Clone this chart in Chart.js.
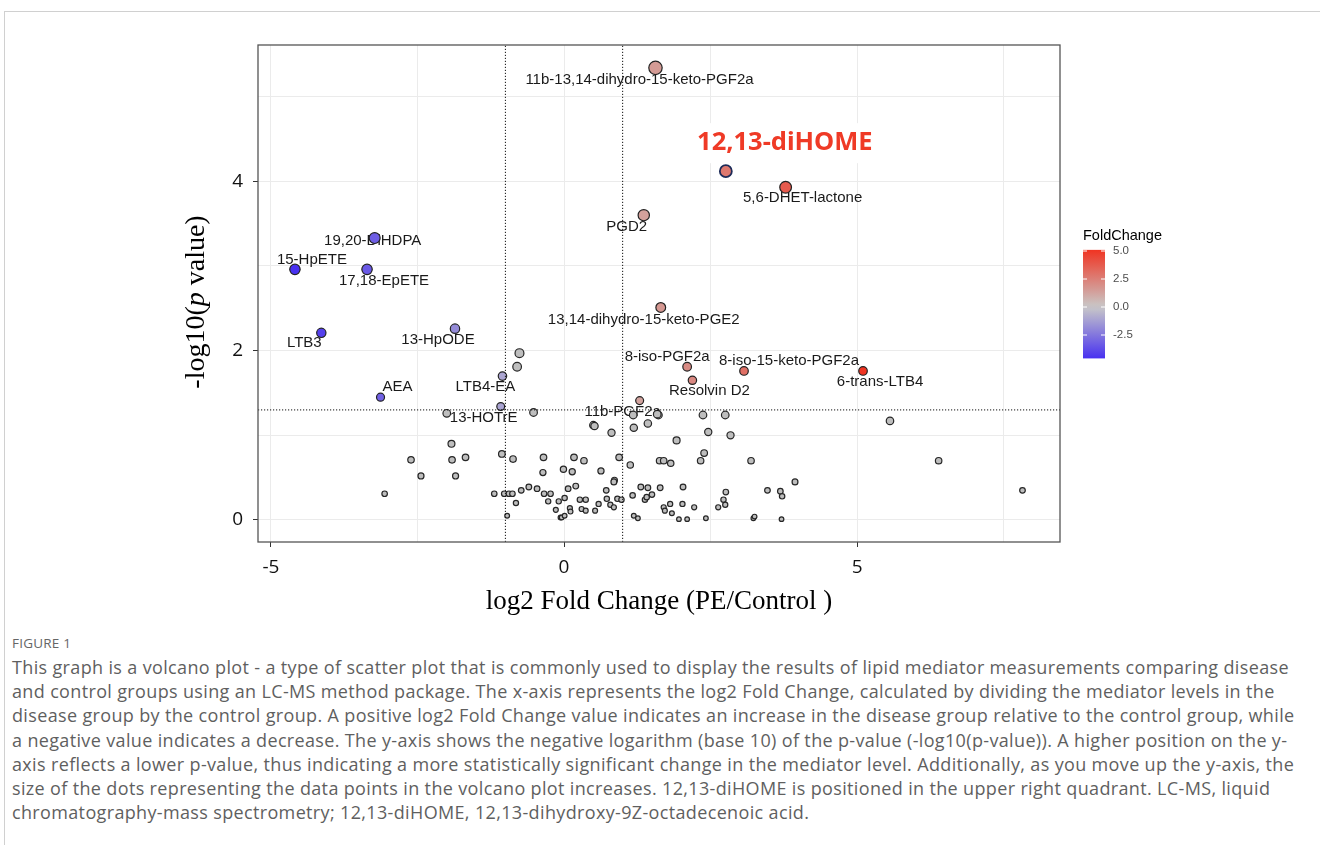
<!DOCTYPE html>
<html lang="en">
<head>
  <meta charset="UTF-8">
  <title>Volcano plot - lipid mediators</title>
  <script src="https://cdn.jsdelivr.net/npm/chart.js"></script>
  <style>
    body {
      margin: 0;
      background: #fff;
      font-family: "Open Sans", Arial, sans-serif;
    }
    .frame {
      position: absolute;
      left: 4px;
      top: 11px;
      width: 1400px;
      height: 900px;
      border-left: 1px solid #d0d0d0;
      border-top: 1px solid #d0d0d0;
    }
    #volcano {
      position: absolute;
      left: 0;
      top: 0;
    }
    .fig-label {
      position: absolute;
      left: 12px;
      top: 634px;
      font-size: 13.5px;
      line-height: 18px;
      color: #666;
      letter-spacing: 0.2px;
    }
    .caption {
      position: absolute;
      left: 12px;
      top: 655px;
      font-size: 18px;
      line-height: 24.2px;
      letter-spacing: 0.35px;
      color: #5f5f5f;
      white-space: nowrap;
    }
  </style>
</head>
<body>
  <div class="frame"></div>
  <canvas id="volcano" width="1320" height="630"></canvas>

  <div class="fig-label">FIGURE 1</div>
  <div class="caption">
    This graph is a volcano plot - a type of scatter plot that is commonly used to display the results of lipid mediator measurements comparing disease<br>
    and control groups using an LC-MS method package. The x-axis represents the log2 Fold Change, calculated by dividing the mediator levels in the<br>
    disease group by the control group. A positive log2 Fold Change value indicates an increase in the disease group relative to the control group, while<br>
    a negative value indicates a decrease. The y-axis shows the negative logarithm (base 10) of the p-value (-log10(p-value)). A higher position on the y-<br>
    axis reflects a lower p-value, thus indicating a more statistically significant change in the mediator level. Additionally, as you move up the y-axis, the<br>
    size of the dots representing the data points in the volcano plot increases. 12,13-diHOME is positioned in the upper right quadrant. LC-MS, liquid<br>
    chromatography-mass spectrometry; 12,13-diHOME, 12,13-dihydroxy-9Z-octadecenoic acid.
  </div>

  <script>
    // significant mediators (p < 0.05, |log2FC| > 1), labelled on the plot
    const labelNames = [
      '11b-13,14-dihydro-15-keto-PGF2a', '12,13-diHOME', '5,6-DHET-lactone', 'PGD2',
      '19,20-DiHDPA', '15-HpETE', '17,18-EpETE', '13,14-dihydro-15-keto-PGE2',
      'LTB3', '13-HpODE', 'LTB4-EA', 'AEA', '13-HOTrE', '11b-PGF2a',
      '8-iso-PGF2a', 'Resolvin D2', '8-iso-15-keto-PGF2a', '6-trans-LTB4'
    ];
    const labelFC = [1.56, 2.76, 3.78, 1.36, -3.23, -4.59, -3.36, 1.65,
                     -4.14, -1.86, -1.05, -3.13, -1.08, 1.29, 2.10, 2.19, 3.07, 5.10];
    const labelP = [5.34, 4.12, 3.93, 3.60, 3.33, 2.96, 2.96, 2.51,
                    2.21, 2.26, 1.70, 1.45, 1.34, 1.41, 1.81, 1.65, 1.76, 1.76];

    // all other mediators
    const otherFC = [
      -0.76, -0.80, -2.00, -0.52, 0.50, 0.52, 0.81, 1.19, 1.18, 1.43, 1.61, 1.59, 2.37, 2.75,
      2.46, 2.84, 1.92, 2.39, 2.33, 1.63, 1.70, 1.82, 3.19, 5.56, 6.39, 7.82,
      -1.92, -2.61, -1.91, -1.68, -2.44, -1.85, -3.06, -1.06, -0.87, -0.35, -0.36, -0.01, 0.14,
      0.17, 0.34, 0.63, 0.94, 1.13,
      -1.19, -1.02, -0.94, -0.88, -0.82, -0.73, -0.60, -0.46, -0.34, -0.23, -0.27, -0.09, 0.01,
      0.07, 0.20, 0.27, 0.37, -0.14, -0.06, -0.04, 0.01, 0.10, 0.11, 0.30, 0.37, 0.53, 0.59,
      0.72, 0.73, 0.79, 0.85, 0.86, 0.85, 0.91, 0.98, -0.97, 1.17, 1.31, 1.38, 1.19, 1.26,
      1.43, 1.64, 2.03, 1.41, 1.50, 1.70, 1.72, 1.81, 2.02, 2.22, 2.63, 1.96, 2.10, 2.42, 1.84,
      3.94, 2.76, 3.47, 3.69, 3.72, 2.72, 2.75, 3.23, 3.25, 3.71
    ];
    const otherP = [
      1.97, 1.81, 1.26, 1.27, 1.12, 1.11, 1.03, 1.09, 1.24, 1.14, 1.24, 1.25, 1.24, 1.24,
      1.04, 1.00, 0.94, 0.79, 0.70, 0.70, 0.70, 0.67, 0.70, 1.17, 0.70, 0.35,
      0.90, 0.71, 0.71, 0.74, 0.52, 0.52, 0.31, 0.78, 0.72, 0.74, 0.56, 0.60, 0.57,
      0.74, 0.70, 0.58, 0.74, 0.65,
      0.31, 0.31, 0.31, 0.31, 0.20, 0.35, 0.39, 0.37, 0.31, 0.31, 0.22, 0.22, 0.26,
      0.37, 0.40, 0.24, 0.24, 0.12, 0.03, 0.03, 0.05, 0.14, 0.10, 0.13, 0.11, 0.11, 0.19,
      0.35, 0.25, 0.18, 0.15, 0.47, 0.45, 0.25, 0.24, 0.05, 0.29, 0.39, 0.24, 0.05, 0.02,
      0.38, 0.38, 0.39, 0.27, 0.30, 0.15, 0.11, 0.19, 0.19, 0.15, 0.15, 0.01, 0.01, 0.02, 0.08,
      0.45, 0.33, 0.35, 0.34, 0.28, 0.24, 0.18, 0.02, 0.04, 0.01
    ];

    const xTicks = [-5, -2.5, 0, 2.5, 5, 7.5];
    const xTickLabels = [-5, 0, 5];
    const yTicks = [0, 1, 2, 3, 4, 5];
    const yTickLabels = [0, 2, 4];
    const fcCutoffs = [-1, 1];
    const pCutoff = 1.3;
    const legendBreaks = [5.0, 2.5, 0.0, -2.5];
    const highlightName = '12,13-diHOME';

    const xMin = -5.22, xMax = 8.46;
    const yMin = -0.26, yMax = 5.61;

    // where each label sits relative to its point (px)
    const labelOffsets = {
      '11b-13,14-dihydro-15-keto-PGF2a': [-16, 12],
      '12,13-diHOME': [59, -28],
      '5,6-DHET-lactone': [17, 11],
      'PGD2': [-17, 12],
      '19,20-DiHDPA': [-2, 3],
      '15-HpETE': [17, -10],
      '17,18-EpETE': [17, 11],
      '13,14-dihydro-15-keto-PGE2': [-17, 12],
      'LTB3': [-17, 10],
      '13-HpODE': [-17, 11],
      'LTB4-EA': [-17, 11],
      'AEA': [17, -10],
      '13-HOTrE': [-17, 11],
      '11b-PGF2a': [-17, 11],
      '8-iso-PGF2a': [-20, -10],
      'Resolvin D2': [17, 11],
      '8-iso-15-keto-PGF2a': [45, -10],
      '6-trans-LTB4': [17, 11]
    };

    // fill colour scale: blue - grey - red, centred on 0
    const lowColor = [58, 32, 245];
    const midColor = [200, 200, 200];
    const highColor = [240, 52, 34];
    const fcLimit = Math.max(...labelFC.map(Math.abs));

    function mix(a, b, t) {
      return a.map((c, i) => Math.round(c + (b[i] - c) * t));
    }
    function fcColor(v) {
      const t = Math.max(-1, Math.min(1, v / fcLimit));
      const c = t >= 0 ? mix(midColor, highColor, t) : mix(midColor, lowColor, -t);
      return `rgb(${c[0]}, ${c[1]}, ${c[2]})`;
    }
    // dot area grows with -log10(p)
    function dotRadius(p) {
      return Math.sqrt(5.3 + 7.4 * Math.max(p, 0));
    }

    const cutoffLine = {
      showLine: true,
      pointRadius: 0,
      borderColor: '#111',
      borderWidth: 1,
      borderDash: [1.2, 1.8]
    };

    const plotDecor = {
      id: 'plotDecor',
      beforeDatasetsDraw(chart) {
        const { ctx, scales: { x, y } } = chart;
        ctx.save();
        ctx.textAlign = 'center';
        ctx.textBaseline = 'middle';
        labelNames.forEach((name, i) => {
          const px = x.getPixelForValue(labelFC[i]);
          const py = y.getPixelForValue(labelP[i]);
          const off = labelOffsets[name] || [0, 12];
          if (name === highlightName) {
            ctx.font = 'bold 25.5px "Noto Sans", sans-serif';
            const w = ctx.measureText(name).width;
            ctx.fillStyle = '#fff';
            ctx.fillRect(px + off[0] - w / 2 - 3, py + off[1] - 20, w + 6, 40);
            ctx.fillStyle = '#ef3a26';
            ctx.fillText(name, px + off[0], py + off[1]);
          } else {
            ctx.font = '15px "Liberation Sans", Arial, sans-serif';
            ctx.fillStyle = '#1a1a1a';
            ctx.fillText(name, px + off[0], py + off[1]);
          }
        });
        ctx.restore();
      },
      afterDraw(chart) {
        const { ctx, chartArea: a } = chart;
        ctx.save();

        // panel border
        ctx.strokeStyle = '#555';
        ctx.lineWidth = 1.3;
        ctx.strokeRect(a.left, a.top, a.right - a.left, a.bottom - a.top);

        // x axis title
        ctx.fillStyle = '#000';
        ctx.font = '27px "Liberation Serif", "Times New Roman", serif';
        ctx.textAlign = 'center';
        ctx.textBaseline = 'middle';
        ctx.fillText('log2 Fold Change (PE/Control )', (a.left + a.right) / 2, 602);

        // y axis title with italic p
        const parts = [
          ['-log10(', '28px "Liberation Serif", serif'],
          ['p', 'italic 28px "Liberation Serif", serif'],
          [' value)', '28px "Liberation Serif", serif']
        ];
        let total = 0;
        parts.forEach(([t, f]) => { ctx.font = f; total += ctx.measureText(t).width; });
        ctx.translate(197, 302);
        ctx.rotate(-Math.PI / 2);
        ctx.textAlign = 'left';
        let cx = -total / 2;
        parts.forEach(([t, f]) => {
          ctx.font = f;
          ctx.fillText(t, cx, 0);
          cx += ctx.measureText(t).width;
        });
        ctx.setTransform(1, 0, 0, 1, 0, 0);

        // colour bar legend
        const barX = 1083, barW = 22;
        const pxPerUnit = 11.2, zeroY = 307;
        const fcMinAll = Math.min(...labelFC);
        const barTop = zeroY - fcLimit * pxPerUnit;
        const barBottom = zeroY - fcMinAll * pxPerUnit;
        const grad = ctx.createLinearGradient(0, barTop, 0, barBottom);
        for (let k = 0; k <= 20; k++) {
          const v = fcLimit + (fcMinAll - fcLimit) * k / 20;
          grad.addColorStop(k / 20, fcColor(v));
        }
        ctx.fillStyle = grad;
        ctx.fillRect(barX, barTop, barW, barBottom - barTop);

        ctx.font = '14.5px "Liberation Sans", Arial, sans-serif';
        ctx.fillStyle = '#000';
        ctx.textAlign = 'left';
        ctx.fillText('FoldChange', barX, 236);

        ctx.font = '11.5px "Liberation Sans", Arial, sans-serif';
        ctx.fillStyle = '#4d4d4d';
        ctx.strokeStyle = '#fff';
        ctx.lineWidth = 1;
        legendBreaks.forEach(v => {
          const by = zeroY - v * pxPerUnit;
          ctx.beginPath();
          ctx.moveTo(barX, by); ctx.lineTo(barX + 4, by);
          ctx.moveTo(barX + barW - 4, by); ctx.lineTo(barX + barW, by);
          ctx.stroke();
          ctx.fillText(v.toFixed(1), barX + 30, by);
        });
        ctx.restore();
      }
    };

    const tickFont = { family: '"Open Sans", Arial, sans-serif', size: 19 };

    new Chart(document.getElementById('volcano'), {
      type: 'scatter',
      data: {
        datasets: [
          { ...cutoffLine, data: [{ x: fcCutoffs[0], y: yMin }, { x: fcCutoffs[0], y: yMax }] },
          { ...cutoffLine, data: [{ x: fcCutoffs[1], y: yMin }, { x: fcCutoffs[1], y: yMax }] },
          { ...cutoffLine, data: [{ x: xMin, y: pCutoff }, { x: xMax, y: pCutoff }] },
          {
            label: 'significant',
            data: labelFC.map((v, i) => ({ x: v, y: labelP[i] })),
            pointRadius: labelP.map(dotRadius),
            pointBackgroundColor: labelFC.map(fcColor),
            pointBorderColor: labelNames.map(n => n === highlightName ? '#1d2b58' : '#222'),
            pointBorderWidth: labelNames.map(n => n === highlightName ? 1.8 : 1.2)
          },
          {
            label: 'other',
            data: otherFC.map((v, i) => ({ x: v, y: otherP[i] })),
            pointRadius: otherP.map(dotRadius),
            pointBackgroundColor: '#bebebe',
            pointBorderColor: '#262626',
            pointBorderWidth: 1.2
          }
        ]
      },
      options: {
        responsive: false,
        animation: false,
        layout: { padding: { left: 0, top: 45, right: 260, bottom: 0 } },
        plugins: {
          legend: { display: false },
          tooltip: { enabled: false }
        },
        scales: {
          x: {
            type: 'linear',
            min: xMin,
            max: xMax,
            afterBuildTicks: s => { s.ticks = xTicks.map(v => ({ value: v })); },
            afterFit: s => { s.height = 88; },
            border: { display: false },
            grid: {
              color: '#ebebeb',
              tickLength: 5,
              tickColor: c => (c.tick && xTickLabels.includes(c.tick.value)) ? '#333' : 'rgba(0,0,0,0)'
            },
            ticks: {
              padding: 9,
              color: '#111',
              font: tickFont,
              autoSkip: false,
              maxRotation: 0,
              callback: v => xTickLabels.includes(v) ? String(v) : ''
            }
          },
          y: {
            type: 'linear',
            min: yMin,
            max: yMax,
            afterBuildTicks: s => { s.ticks = yTicks.map(v => ({ value: v })); },
            afterFit: s => { s.width = 258; },
            border: { display: false },
            grid: {
              color: '#ebebeb',
              tickLength: 5,
              tickColor: c => (c.tick && yTickLabels.includes(c.tick.value)) ? '#333' : 'rgba(0,0,0,0)'
            },
            ticks: {
              padding: 10,
              color: '#111',
              font: tickFont,
              autoSkip: false,
              callback: v => yTickLabels.includes(v) ? String(v) : ''
            }
          }
        }
      },
      plugins: [plotDecor]
    });
  </script>
</body>
</html>
